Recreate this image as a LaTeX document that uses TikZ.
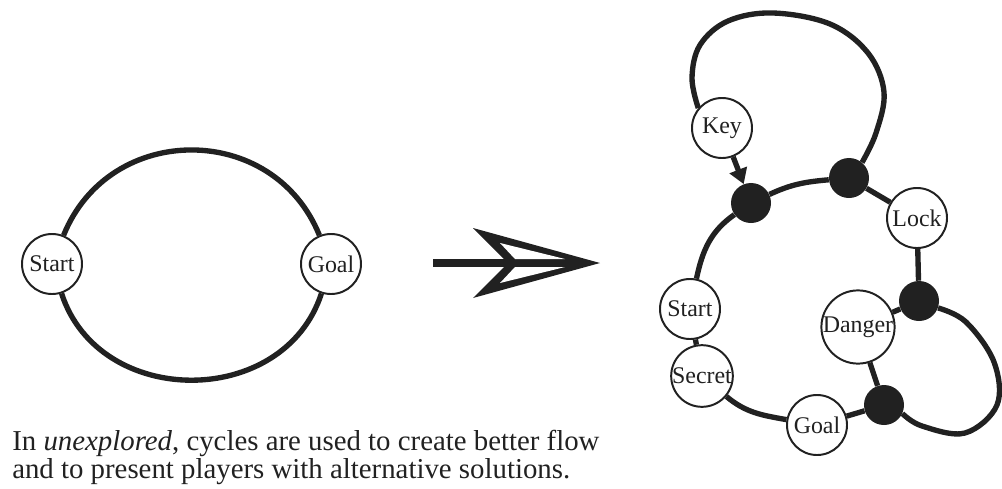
\documentclass[tikz,border=0pt]{standalone}
\usepackage{fontspec}
\setmainfont{Liberation Serif}
\usepackage{tikz}
\usetikzlibrary{arrows.meta,backgrounds}
\definecolor{ink}{gray}{0.13}
\tikzset{
  room/.style={circle,draw=ink,line width=1.4pt,fill=white,minimum size=1.5cm,inner sep=0pt,text=ink,font=\fontsize{17}{18}\selectfont},
  hub/.style={circle,fill=ink,minimum size=1cm,inner sep=0pt},
  edge/.style={line width=3.8pt,draw=ink},
  caption/.style={align=left,inner sep=0pt,text=ink,font=\fontsize{20.5}{19.9}\selectfont},
}

\begin{document}
\begin{tikzpicture}[x=0.025cm,y=0.025cm]
		\useasboundingbox (0,0) rectangle (1002,-488);
		% Простой цикл
		\node[room] (start) at (52,-264) {Start};
		\node[room] (goal) at (331,-264) {Goal};
		\begin{scope}[on background layer]
			\draw[edge] (start) to[out=68,in=112,looseness=1.23] (goal);
			\draw[edge] (start) to[out=-72,in=-108,looseness=1.2] (goal);
		\end{scope}
		% Стрелка
		\coordinate (arrowtail) at (433,-263);
		\coordinate (arrowtip) at (600,-263);
		\draw[line width=0.18cm,ink] (arrowtail) -- ([xshift=-2.2cm]arrowtip);
		\fill[ink] (arrowtip) -- ++(-127,35) -- ++(35,-35) -- ++(-35,-35) -- cycle;
		\fill[white] (arrowtip) ++(-35,4) -- ++(-65,16) -- ++(15,-16) -- cycle;
		\fill[white] (arrowtip) ++(-35,-4) -- ++(-65,-16) -- ++(15,16) -- cycle;
		% Цикл с ключом и замком
		\foreach \n/\t/\x/\y in {key/Key/722/128, lock/Lock/917/218, rstart/Start/690/309,
			secret/Secret/702/376, danger/Danger/858/327, rgoal/Goal/817/425}{
			\node[room] (\n) at (\x,-\y) {\t};
		}
		\foreach \n/\x/\y in {j1/751/203, j2/849/178, j3/919/301, j4/884/405}{
			\node[hub] (\n) at (\x,-\y) {};
		}
		\begin{scope}[on background layer]
			\draw[edge] (j1) to[out=25,in=185] (j2);
			\draw[edge] (j2) -- (lock);
			\draw[edge] (lock) -- (j3);
			\draw[edge] (j3) -- (danger);
			\draw[edge] (danger) -- (j4);
			\draw[edge] (j4) -- (rgoal);
			\draw[edge] (rgoal) to[out=170,in=-40] (secret);
			\draw[edge] (secret) -- (rstart);
			\draw[edge] (rstart) to[out=78,in=215] (j1);
			\draw[edge] plot[smooth,tension=0.6] coordinates {(key.140) (692,-78) (700,-45) (728,-21) (773,-13) (830,-24) (868,-53) (884,-92) (876,-133) (j2.50)};
			\draw[edge] plot[smooth,tension=0.6] coordinates {(j3.-20) (966,-322) (994,-362) (997,-405) (965,-433) (922,-426) (j4.-25)};
		\end{scope}
		\draw[edge,-{Triangle[width=0.45cm,length=0.38cm]}] (key) -- (j1);
		% Подпись
		\node[caption,anchor=north west] (note) at (12,-430)
{In \emph{unexplored}, cycles are used to create better flow\\and to present players with alternative solutions.};
\end{tikzpicture}
\end{document}
